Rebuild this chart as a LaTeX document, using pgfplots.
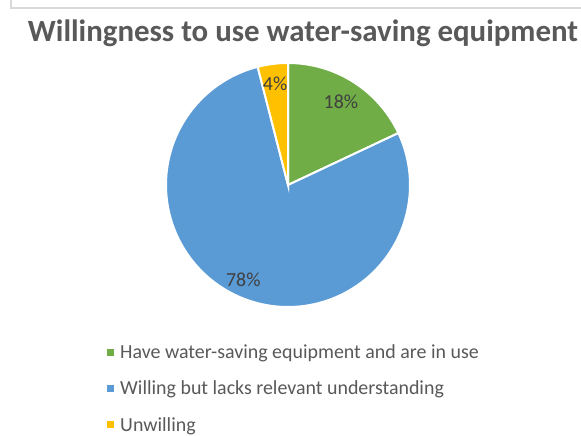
\documentclass[border=0pt]{standalone}
\usepackage{fontspec}
\setmainfont{Carlito}
\usepackage{pgfplots}
\usepackage{pgfplotstable}
\pgfplotsset{compat=1.18}

\definecolor{cGreen}{HTML}{70AD47}
\definecolor{cBlue}{HTML}{5B9BD5}
\definecolor{cYellow}{HTML}{FFC000}
\definecolor{labelGray}{HTML}{404040}
\definecolor{titleGray}{HTML}{595959}
\definecolor{frameGray}{HTML}{D9D9D9}

% Survey shares (percent)
\pgfplotstableread[col sep=comma]{
label,value
Have water-saving equipment and are in use,18
Willing but lacks relevant understanding,78
Unwilling,4
}\sharetable

\pgfplotstablegetelem{0}{value}\of\sharetable \let\vA\pgfplotsretval
\pgfplotstablegetelem{1}{value}\of\sharetable \let\vB\pgfplotsretval
\pgfplotstablegetelem{2}{value}\of\sharetable \let\vC\pgfplotsretval

% wedge boundaries, clockwise from twelve o'clock
\pgfmathsetmacro\aA{90}
\pgfmathsetmacro\aB{\aA-3.6*\vA}
\pgfmathsetmacro\aC{\aB-3.6*\vB}
\pgfmathsetmacro\aD{\aC-3.6*\vC}
\pgfmathsetmacro\mA{(\aA+\aB)/2}
\pgfmathsetmacro\mB{(\aB+\aC)/2}
\pgfmathsetmacro\mC{(\aC+\aD)/2}

\pgfplotsset{
  sq/.style={legend image code/.code={
    \fill[draw=none, fill=#1] (0bp,-3.5bp) rectangle (7bp,3.5bp);
    \path[draw=none, fill=none] (0bp,0bp) -- (11bp,0bp);}},
}

\begin{document}
\begin{tikzpicture}[x=1bp,y=1bp]
\path[use as bounding box] (0,0) rectangle (581,436);
\fill[white] (0,0) rectangle (581,436);
\draw[frameGray, line width=1.2bp] (11,436) -- (11,428) -- (581,428);

\node[font=\bfseries\fontsize{31}{36}\selectfont, text=titleGray] at (303,403)
  {Willingness to use water-saving equipment};

\begin{axis}[
  at={(166bp,129bp)}, anchor=south west,
  width=244bp, height=244bp, scale only axis,
  xmin=-1, xmax=1, ymin=-1, ymax=1,
  hide axis, clip=false,
  legend cell align=left,
  legend style={draw=none, fill=none, at={(-0.254,-0.137)}, anchor=north west,
    font=\fontsize{20}{24}\selectfont, text=titleGray, row sep=17bp,
    nodes={inner sep=2bp}},
]
\addplot[fill=cGreen, draw=white, line width=2bp, domain=\aB:\aA, samples=40, variable=\t,
  sq=cGreen]
  ({cos(\t)},{sin(\t)}) -- (axis cs:0,0) -- cycle;
\addlegendentry{Have water-saving equipment and are in use}
\addplot[fill=cBlue, draw=white, line width=2bp, domain=\aC:\aB, samples=150, variable=\t,
  sq=cBlue]
  ({cos(\t)},{sin(\t)}) -- (axis cs:0,0) -- cycle;
\addlegendentry{Willing but lacks relevant understanding}
\addplot[fill=cYellow, draw=white, line width=2bp, domain=\aD:\aC, samples=15, variable=\t,
  sq=cYellow]
  ({cos(\t)},{sin(\t)}) -- (axis cs:0,0) -- cycle;
\addlegendentry{Unwilling}

\node[text=labelGray, font=\fontsize{20}{24}\selectfont]
  at (axis cs:{0.81*cos(\mA)},{0.81*sin(\mA)}) {\vA\%};
\node[text=labelGray, font=\fontsize{20}{24}\selectfont]
  at (axis cs:{0.86*cos(\mB)},{0.86*sin(\mB)}) {\vB\%};
\node[text=labelGray, font=\fontsize{20}{24}\selectfont]
  at (axis cs:{0.84*cos(\mC)},{0.84*sin(\mC)}) {\vC\%};
\end{axis}
\end{tikzpicture}
\end{document}
